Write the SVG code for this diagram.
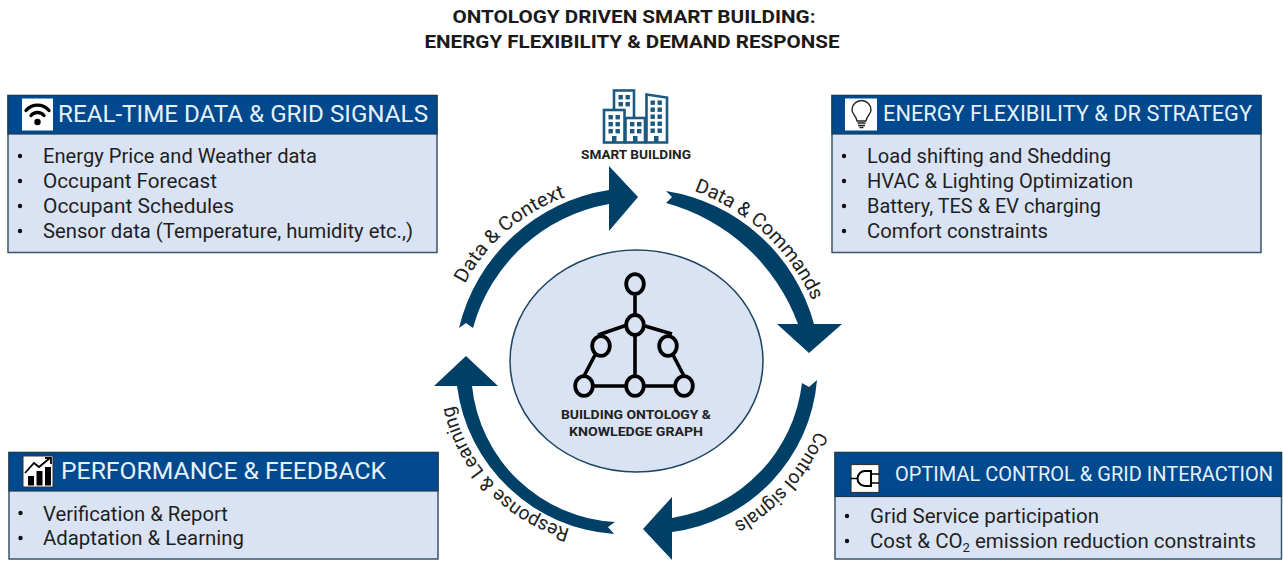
<svg xmlns="http://www.w3.org/2000/svg" width="1283" height="561" viewBox="0 0 1283 561">
<style>
text{font-family:Roboto,"Liberation Sans",sans-serif}
.title{font-size:18px;font-weight:700;fill:#1a1a1a;text-anchor:middle}
.head{fill:#00498f;stroke:#1d3a50;stroke-width:1.2}
.body{fill:#dae3f3;stroke:#3a5468;stroke-width:1.5}
.ht{fill:#e6f1fa}
.li{font-size:19.5px;fill:#1f1f1f}
.dot{fill:#111}
.ico{fill:#fff}
.arr{fill:#003f66}
.lab{font-size:19.5px;fill:#222}
.cap{font-size:12.5px;font-weight:700;fill:#222;text-anchor:middle}
.bl{fill:#fff;stroke:#1a5a80;stroke-width:2.6}
.win{fill:#1a5a80}
.n{fill:#dae3f3;stroke:#000;stroke-width:3.8}
.e{stroke:#000;stroke-width:3.6;fill:none}
</style>
<defs>
<g id="w2"><rect x="0" y="0" width="4.400" height="4.400" class="win"/><rect x="7" y="0" width="4.400" height="4.400" class="win"/></g>
</defs>

<g id="title">
<text class="title" x="634" y="23" textLength="363" lengthAdjust="spacingAndGlyphs">ONTOLOGY DRIVEN SMART BUILDING:</text>
<text class="title" x="632" y="48" textLength="415" lengthAdjust="spacingAndGlyphs">ENERGY FLEXIBILITY &amp; DEMAND RESPONSE</text>
</g>

<g id="connectors">
<path class="arr" d="M459 328 A183 183 0 0 1 609 190 L609 166 L638 197 L609 231 L609 204 A172 172 0 0 0 473 328 L466 323 Z"/>
<path class="arr" d="M666 191 L672 197 L666 203 A195 195 0 0 1 798 324 L777 324 L809 353 L842 324 L814 324 A183 183 0 0 0 666 191 Z"/>
<path class="arr" d="M817 380 L809 387 L802 383 A155 155 0 0 1 672 518 L672 497 L643 529 L672 560 L672 532 A167 167 0 0 0 817 380 Z"/>
<path class="arr" d="M615 522 L608 527 L614 534 A170 170 0 0 1 457 386 L434 386 L466 356 L498 386 L472 386 A152 152 0 0 0 615 522 Z"/>
<path id="p1" d="M465 284 A180 180 0 0 1 566 197" fill="none"/>
<path id="p2" d="M694 191 A205 205 0 0 1 812 300" fill="none"/>
<path id="p3" d="M816 431 A190 190 0 0 1 732 524" fill="none"/>
<path id="p4" d="M570 529 A165 165 0 0 1 452 399" fill="none"/>
<text class="lab"><textPath href="#p1" textLength="136" lengthAdjust="spacingAndGlyphs">Data &amp; Context</textPath></text>
<text class="lab"><textPath href="#p2" textLength="166" lengthAdjust="spacingAndGlyphs">Data &amp; Commands</textPath></text>
<text class="lab"><textPath href="#p3" textLength="126" lengthAdjust="spacingAndGlyphs">Control signals</textPath></text>
<text class="lab"><textPath href="#p4" textLength="178" lengthAdjust="spacingAndGlyphs">Response &amp; Learning</textPath></text>
</g>

<g id="node-realtime">
<rect class="body" x="8" y="95.500" width="429" height="157"/>
<rect class="head" x="8" y="95.500" width="429" height="38.500"/>
<rect class="ico" x="22" y="98.500" width="31" height="32"/>
<g fill="none" stroke="#000" stroke-width="3.400" stroke-linecap="round">
<path d="M26 110.500 A15 15 0 0 1 49 110.500"/>
<path d="M31 115.500 A8.500 8.500 0 0 1 44 115.500"/>
</g>
<circle cx="37.500" cy="122" r="3.200" fill="#000"/>
<text class="ht" x="58" y="122" font-size="23.500" textLength="370" lengthAdjust="spacingAndGlyphs">REAL-TIME DATA &amp; GRID SIGNALS</text>
<circle class="dot" cx="20" cy="156" r="2.200"/><circle class="dot" cx="20" cy="181" r="2.200"/><circle class="dot" cx="20" cy="206" r="2.200"/><circle class="dot" cx="20" cy="231" r="2.200"/>
<text class="li" x="43" y="162.500" textLength="274" lengthAdjust="spacingAndGlyphs">Energy Price and Weather data</text>
<text class="li" x="43" y="187.500" textLength="174" lengthAdjust="spacingAndGlyphs">Occupant Forecast</text>
<text class="li" x="43" y="212.500" textLength="191" lengthAdjust="spacingAndGlyphs">Occupant Schedules</text>
<text class="li" x="43" y="237.500" textLength="370" lengthAdjust="spacingAndGlyphs">Sensor data (Temperature, humidity etc.,)</text>
</g>

<g id="node-strategy">
<rect class="body" x="832" y="95.500" width="429" height="157"/>
<rect class="head" x="832" y="95.500" width="429" height="38.500"/>
<rect class="ico" x="845" y="98.500" width="32" height="32"/>
<path d="M857 121 C856 115 852 114 852 110 A9.500 9.500 0 0 1 871 110 C871 114 867 115 866 121 Z" fill="none" stroke="#222" stroke-width="1.400"/>
<path d="M857.500 123 H865.500 M858 125.500 H865 M859.500 127.500 H863.500" stroke="#222" stroke-width="1.400" fill="none"/>
<text class="ht" x="883" y="121" font-size="22" textLength="369" lengthAdjust="spacingAndGlyphs">ENERGY FLEXIBILITY &amp; DR STRATEGY</text>
<circle class="dot" cx="844" cy="156" r="2.200"/><circle class="dot" cx="844" cy="181" r="2.200"/><circle class="dot" cx="844" cy="206" r="2.200"/><circle class="dot" cx="844" cy="231" r="2.200"/>
<text class="li" x="867" y="162.500" textLength="244" lengthAdjust="spacingAndGlyphs">Load shifting and Shedding</text>
<text class="li" x="867" y="187.500" textLength="266" lengthAdjust="spacingAndGlyphs">HVAC &amp; Lighting Optimization</text>
<text class="li" x="867" y="212.500" textLength="234" lengthAdjust="spacingAndGlyphs">Battery, TES &amp; EV charging</text>
<text class="li" x="867" y="237.500" textLength="181" lengthAdjust="spacingAndGlyphs">Comfort constraints</text>
</g>

<g id="node-performance">
<rect class="body" x="9" y="452.500" width="429" height="106.500"/>
<rect class="head" x="9" y="452.500" width="429" height="38.500"/>
<rect class="ico" x="23" y="456" width="30" height="31" stroke="#333" stroke-width="1"/>
<rect x="28" y="476" width="6" height="9.500" fill="#000"/><rect x="36.500" y="471" width="6" height="14.500" fill="#000"/><rect x="45" y="467" width="6" height="18.500" fill="#000"/>
<path d="M25 473 L34 463 L39 467 L50 458 M45 458 H51 V464" fill="none" stroke="#000" stroke-width="1.800"/>
<text class="ht" x="61" y="479" font-size="23.500" textLength="325" lengthAdjust="spacingAndGlyphs">PERFORMANCE &amp; FEEDBACK</text>
<circle class="dot" cx="20.500" cy="513" r="2.200"/><circle class="dot" cx="20.500" cy="538" r="2.200"/>
<text class="li" x="43" y="520.500" textLength="185" lengthAdjust="spacingAndGlyphs">Verification &amp; Report</text>
<text class="li" x="43" y="545" textLength="201" lengthAdjust="spacingAndGlyphs">Adaptation &amp; Learning</text>
</g>

<g id="node-control">
<rect class="body" x="835" y="452.500" width="446.500" height="106.500"/>
<rect class="head" x="835" y="452.500" width="446.500" height="44"/>
<rect class="ico" x="851" y="464.500" width="28" height="28" stroke="#333" stroke-width="1.200"/>
<path d="M851 478.500 H859 M870 474 H879 M870 483 H879" stroke="#000" stroke-width="1.600" fill="none"/>
<path d="M871 471 H865 A7.500 7.500 0 0 0 865 486 H871 Z" fill="#fff" stroke="#000" stroke-width="2"/>
<text class="ht" x="895" y="481" font-size="20" textLength="378" lengthAdjust="spacingAndGlyphs">OPTIMAL CONTROL &amp; GRID INTERACTION</text>
<circle class="dot" cx="847" cy="516" r="2.200"/><circle class="dot" cx="847" cy="541" r="2.200"/>
<text class="li" x="870" y="522.500" textLength="229" lengthAdjust="spacingAndGlyphs">Grid Service participation</text>
<text class="li" x="870" y="547.500" textLength="386" lengthAdjust="spacingAndGlyphs">Cost &amp; CO<tspan font-size="12.500" dy="4">2</tspan><tspan dy="-4"> emission reduction constraints</tspan></text>
</g>

<g id="node-smart-building">
<rect class="bl" x="614" y="90.500" width="20" height="28"/>
<path class="bl" d="M646.500 94.500 L667 97.500 V142.500 H646.500 Z"/>
<rect class="bl" x="604" y="110" width="20.500" height="32.500"/>
<rect class="bl" x="625.500" y="118" width="19.500" height="24.500"/>
<use href="#w2" x="618.500" y="95"/><use href="#w2" x="618.500" y="102"/>
<use href="#w2" x="608.500" y="115"/><use href="#w2" x="608.500" y="122"/><use href="#w2" x="608.500" y="129"/>
<use href="#w2" x="630" y="122"/><use href="#w2" x="630" y="129"/>
<use href="#w2" x="650.500" y="100.500"/><use href="#w2" x="650.500" y="107.500"/><use href="#w2" x="650.500" y="114.500"/><use href="#w2" x="650.500" y="121.500"/><use href="#w2" x="650.500" y="128.500"/>
<rect class="win" x="612" y="136" width="4.500" height="7"/><rect class="win" x="633" y="136" width="4.500" height="7"/><rect class="win" x="654" y="136" width="4.500" height="7"/>
<text class="cap" x="636" y="159" textLength="110" lengthAdjust="spacingAndGlyphs">SMART BUILDING</text>
</g>

<g id="node-ontology">
<ellipse cx="636.500" cy="361" rx="126.500" ry="111" fill="#dae3f3" stroke="#1d4560" stroke-width="1.500"/>
<path class="e" d="M635 284 V386 M627 325 L598 335 M645 326 L672 334 M595 355 L584 376 M673 355 L684 376 M584 386 H684"/>
<ellipse class="n" cx="635" cy="284" rx="8.800" ry="9.800"/>
<ellipse class="n" cx="635" cy="325" rx="8.800" ry="10"/>
<ellipse class="n" cx="601" cy="346" rx="8.800" ry="9.800"/>
<ellipse class="n" cx="668" cy="346" rx="8.800" ry="9.800"/>
<ellipse class="n" cx="584" cy="386" rx="8.800" ry="9.800"/>
<ellipse class="n" cx="635" cy="386" rx="8.800" ry="9.800"/>
<ellipse class="n" cx="684" cy="386" rx="8.800" ry="9.800"/>
<text class="cap" x="636" y="419" textLength="150" lengthAdjust="spacingAndGlyphs">BUILDING ONTOLOGY &amp;</text>
<text class="cap" x="636" y="436" textLength="134" lengthAdjust="spacingAndGlyphs">KNOWLEDGE GRAPH</text>
</g>
</svg>
